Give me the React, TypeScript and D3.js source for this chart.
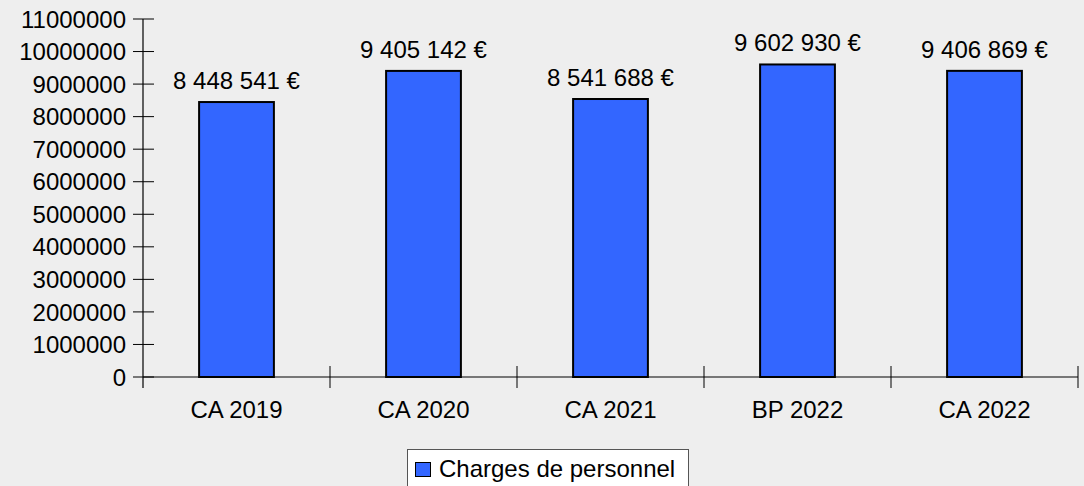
import React from "react";
import * as d3 from "d3";

const categories = ["CA 2019", "CA 2020", "CA 2021", "BP 2022", "CA 2022"];
const values = [8448541, 9405142, 8541688, 9602930, 9406869];
const yTicks = [0, 1000000, 2000000, 3000000, 4000000, 5000000, 6000000, 7000000, 8000000, 9000000, 10000000, 11000000];
const seriesName = "Charges de personnel";

const W = 1084;
const H = 486;
const FONT = "'Liberation Sans', Arial, sans-serif";

export default function App() {
  const x = d3.scaleBand<string>().domain(categories).range([143, 1078]).padding(0);
  const y = d3.scaleLinear().domain([0, 11000000]).range([377, 19]);
  const loc = d3.formatLocale({ decimal: ",", thousands: " ", grouping: [3], currency: ["", " €"] });
  const fmt = loc.format(",d");
  const barW = x.bandwidth() * 0.4;
  const edges = [...categories.map((c) => x(c)!), 1078];

  return (
    <div style={{ position: "fixed", left: 0, top: 0 }}>
      <svg width={W} height={H} style={{ display: "block", fontFamily: FONT }}>
        <rect x={0} y={0} width={W} height={H} fill="#eeeeee" />
        {/* bars */}
        {categories.map((c, i) => {
          const cx = x(c)! + x.bandwidth() / 2;
          const top = y(values[i]);
          return (
            <g key={c}>
              <rect x={cx - barW / 2} y={top} width={barW} height={y(0) - top} fill="#3366ff" stroke="#000" strokeWidth={2} />
              <text x={cx} y={top - 13} textAnchor="middle" fontSize={24} fill="#000">
                {fmt(values[i]) + " €"}
              </text>
              <text x={cx} y={418} textAnchor="middle" fontSize={24} fill="#000">
                {c}
              </text>
            </g>
          );
        })}
        {/* y axis */}
        <line x1={143} x2={143} y1={y(11000000)} y2={388} stroke="#000" strokeWidth={1.2} />
        {yTicks.map((t) => (
          <g key={t}>
            <line x1={133} x2={154} y1={y(t)} y2={y(t)} stroke="#000" strokeWidth={1} />
            <text x={126} y={y(t)} dy="0.36em" textAnchor="end" fontSize={24} fill="#000">
              {t}
            </text>
          </g>
        ))}
        {/* x axis */}
        <line x1={143} x2={1078} y1={y(0)} y2={y(0)} stroke="#000" strokeWidth={1.2} />
        {edges.slice(1).map((e, i) => (
          <line key={i} x1={e} x2={e} y1={366} y2={388} stroke="#000" strokeWidth={1} />
        ))}
        {/* legend */}
        <rect x={407.5} y={449.5} width={281} height={50} fill="#ffffff" stroke="#555" strokeWidth={1} />
        <rect x={415.5} y={462.5} width={15} height={14} fill="#3366ff" stroke="#000" strokeWidth={1} />
        <text x={439} y={477} fontSize={24} fill="#000">
          {seriesName}
        </text>
      </svg>
    </div>
  );
}
